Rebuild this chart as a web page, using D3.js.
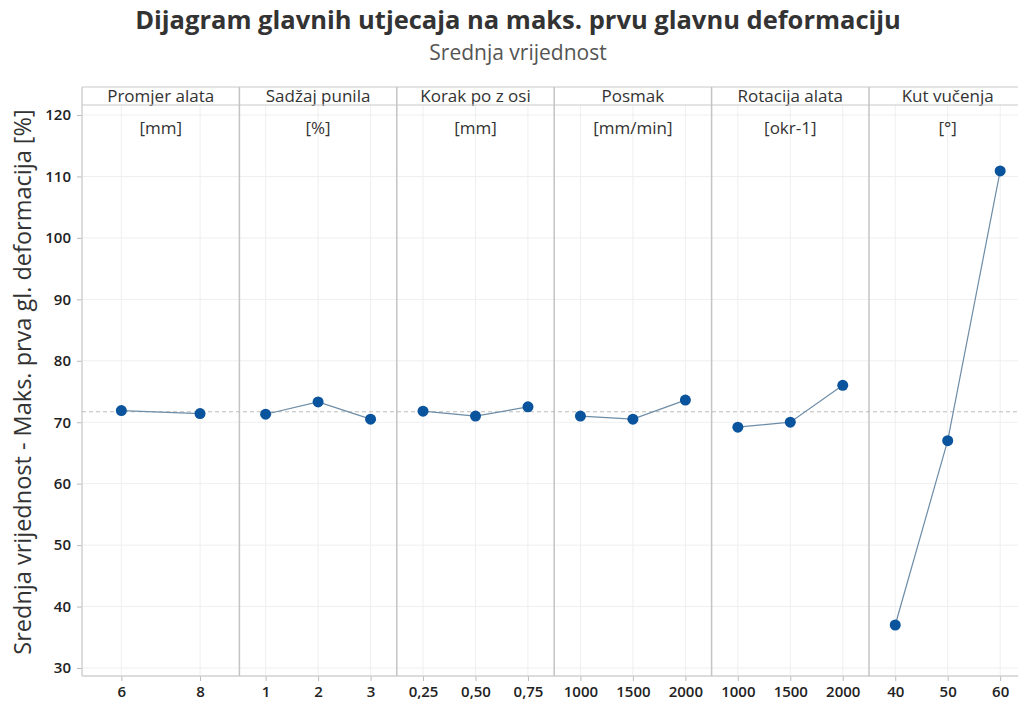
<!DOCTYPE html>
<html><head><meta charset="utf-8">
<script src="https://cdn.jsdelivr.net/npm/d3@7"></script>
<style>body{margin:0;background:#fff}svg{display:block}text{font-family:"Open Sans","Noto Sans",sans-serif}</style>
</head><body><svg id="c" width="1018" height="705"></svg>
<script>
const factors = ["Promjer alata","Sadžaj punila","Korak po z osi","Posmak","Rotacija alata","Kut vučenja"];
const units = ["[mm]","[%]","[mm]","[mm/min]","[okr-1]","[°]"];
const levels = [["6","8"],["1","2","3"],["0,25","0,50","0,75"],["1000","1500","2000"],["1000","1500","2000"],["40","50","60"]];
const means = [[71.9,71.4],[71.3,73.3,70.5],[71.8,71.0,72.5],[71.0,70.5,73.6],[69.2,70.0,76.0],[37.0,67.0,110.9]];
const grandMean = 71.7;
const yTicks = [30,40,50,60,70,80,90,100,110,120];

const svg = d3.select("#c");
const plotLeft = 82, plotBottom = 676, plotTop = 87, headH = 18, panelW = 157.4;
const y = d3.scaleLinear().domain([30,120]).range([668,115]);

svg.append("text").attr("x",518).attr("y",29).attr("text-anchor","middle")
  .attr("font-size",25.5).attr("font-weight",700).attr("fill","#333")
  .text("Dijagram glavnih utjecaja na maks. prvu glavnu deformaciju");
svg.append("text").attr("x",518).attr("y",60).attr("text-anchor","middle")
  .attr("font-size",21).attr("fill","#555").text("Srednja vrijednost");

// horizontal gridlines
svg.append("g").selectAll("line").data(yTicks).join("line")
  .attr("x1",plotLeft).attr("x2",1018).attr("y1",d=>y(d)).attr("y2",d=>y(d))
  .attr("stroke","#efefef");

// y axis
const yAx = svg.append("g").attr("transform",`translate(${plotLeft},0)`)
  .call(d3.axisLeft(y).tickValues(yTicks).tickSize(5).tickPadding(6));
yAx.select(".domain").remove();
yAx.selectAll("line").attr("stroke","#bbb");
yAx.selectAll("text").attr("font-size",15).attr("font-weight",600).attr("fill","#222")
  .attr("font-family","'Open Sans',sans-serif");

svg.append("text").attr("transform","translate(31,382) rotate(-90)").attr("text-anchor","middle")
  .attr("font-size",23.5).attr("font-weight",500).attr("fill","#333")
  .text("Srednja vrijednost - Maks. prva gl. deformacija [%]");

const panelX = factors.map((f,i)=>plotLeft+i*panelW);
const scales = [];
factors.forEach((f,i)=>{
  const x = d3.scalePoint().domain(levels[i]).range([panelX[i],panelX[i]+panelW]).padding(0.5);
  scales.push(x);
  svg.append("g").selectAll("line").data(levels[i]).join("line")
    .attr("x1",d=>x(d)).attr("x2",d=>x(d)).attr("y1",plotTop+headH).attr("y2",plotBottom)
    .attr("stroke","#efefef");
  const ax = svg.append("g").attr("transform",`translate(0,${plotBottom})`)
    .call(d3.axisBottom(x).tickSizeOuter(0).tickSize(5).tickPadding(5));
  ax.select(".domain").remove();
  ax.selectAll("line").attr("stroke","#bbb");
  ax.selectAll("text").attr("font-size",15).attr("font-weight",600).attr("fill","#222")
    .attr("font-family","'Open Sans',sans-serif");
  svg.append("text").attr("x",panelX[i]+panelW/2).attr("y",plotTop+15).attr("text-anchor","middle")
    .attr("font-size",17).attr("fill","#333").text(f);
  svg.append("text").attr("x",panelX[i]+panelW/2).attr("y",134).attr("text-anchor","middle")
    .attr("font-size",17).attr("fill","#333").text(units[i]);
});

// frame
svg.append("line").attr("x1",plotLeft).attr("x2",1018).attr("y1",plotTop).attr("y2",plotTop).attr("stroke","#c8c8c8");
svg.append("line").attr("x1",plotLeft).attr("x2",1018).attr("y1",plotTop+headH).attr("y2",plotTop+headH).attr("stroke","#c8c8c8");
svg.append("line").attr("x1",plotLeft).attr("x2",1018).attr("y1",plotBottom).attr("y2",plotBottom).attr("stroke","#d0d0d0").attr("stroke-width",1.5);
svg.append("line").attr("x1",plotLeft).attr("x2",plotLeft).attr("y1",plotTop).attr("y2",plotBottom).attr("stroke","#d0d0d0").attr("stroke-width",1.5);
panelX.slice(1).forEach(px=>{
  svg.append("line").attr("x1",px).attr("x2",px).attr("y1",plotTop).attr("y2",plotBottom)
    .attr("stroke","#c4c4c4").attr("stroke-width",1.5);
});

// grand mean dashed line
svg.append("line").attr("x1",plotLeft).attr("x2",1018).attr("y1",y(grandMean)).attr("y2",y(grandMean))
  .attr("stroke","#bdbdbd").attr("stroke-dasharray","4,3");

// data
factors.forEach((f,i)=>{
  const x = scales[i];
  const pts = levels[i].map((l,j)=>({l,v:means[i][j]}));
  svg.append("path").datum(pts)
    .attr("d",d3.line().x(d=>x(d.l)).y(d=>y(d.v)))
    .attr("fill","none").attr("stroke","#6d8ca6").attr("stroke-width",1.2);
  svg.append("g").selectAll("circle").data(pts).join("circle")
    .attr("cx",d=>x(d.l)).attr("cy",d=>y(d.v)).attr("r",5.5).attr("fill","#0a539d");
});
</script>
</body></html>
